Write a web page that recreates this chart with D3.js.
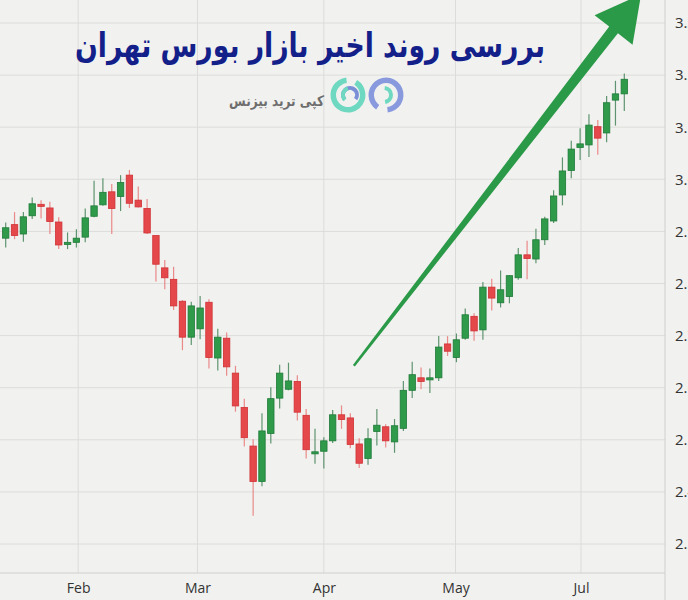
<!DOCTYPE html>
<html><head><meta charset="utf-8">
<script src="https://cdn.jsdelivr.net/npm/d3@7/dist/d3.min.js"></script>
<style>html,body{margin:0;padding:0;background:#f1f1ef;overflow:hidden}svg{display:block}</style>
</head><body>
<script>
const openV  = [2.887,2.913,2.895,2.930,2.952,2.945,2.918,2.875,2.879,2.889,2.929,2.951,2.976,2.967,3.008,2.960,2.944,2.892,2.830,2.808,2.766,2.697,2.713,2.764,2.657,2.695,2.628,2.562,2.488,2.420,2.512,2.580,2.597,2.612,2.547,2.473,2.478,2.498,2.548,2.542,2.492,2.464,2.516,2.525,2.496,2.522,2.595,2.619,2.615,2.619,2.684,2.658,2.695,2.737,2.711,2.793,2.763,2.775,2.811,2.855,2.847,2.884,2.920,2.970,3.017,3.061,3.066,3.101,3.089,3.152,3.164];
const highV  = [2.917,2.937,2.937,2.965,2.960,2.957,2.927,2.898,2.904,2.944,2.997,3.002,2.991,3.008,3.018,2.986,2.962,2.892,2.845,2.832,2.768,2.765,2.776,2.770,2.713,2.706,2.642,2.579,2.501,2.551,2.601,2.644,2.648,2.624,2.559,2.521,2.505,2.557,2.566,2.551,2.503,2.522,2.559,2.530,2.540,2.613,2.650,2.639,2.637,2.699,2.699,2.704,2.752,2.743,2.803,2.809,2.825,2.816,2.868,2.882,2.905,2.928,2.979,3.042,3.074,3.098,3.125,3.114,3.160,3.189,3.203];
const lowV   = [2.869,2.885,2.880,2.924,2.925,2.895,2.866,2.866,2.869,2.879,2.927,2.949,2.895,2.939,2.945,2.946,2.895,2.804,2.789,2.749,2.672,2.682,2.693,2.637,2.633,2.623,2.554,2.487,2.354,2.411,2.493,2.560,2.595,2.537,2.464,2.454,2.445,2.494,2.521,2.484,2.446,2.452,2.489,2.485,2.475,2.517,2.580,2.597,2.590,2.613,2.661,2.649,2.692,2.690,2.692,2.748,2.754,2.762,2.807,2.808,2.839,2.874,2.916,2.950,3.002,3.037,3.043,3.047,3.071,3.103,3.131];
const closeV = [2.907,2.892,2.928,2.953,2.948,2.919,2.874,2.879,2.887,2.926,2.949,2.975,2.944,2.994,2.954,2.947,2.897,2.837,2.811,2.757,2.697,2.757,2.753,2.658,2.697,2.640,2.565,2.504,2.420,2.517,2.579,2.628,2.613,2.553,2.481,2.477,2.498,2.548,2.539,2.491,2.455,2.502,2.528,2.498,2.527,2.595,2.625,2.612,2.619,2.678,2.670,2.692,2.740,2.709,2.793,2.772,2.788,2.815,2.855,2.848,2.884,2.924,2.968,3.016,3.058,3.068,3.104,3.079,3.147,3.164,3.192];
const yTicks = [2.3,2.4,2.5,2.6,2.7,2.8,2.9,3.0,3.1,3.2,3.3];
const monthIdx = [8.2,21.7,36.0,50.9,65.1];
const monthLabels = ["Feb","Mar","Apr","May","Jul"];
const arrowFrom = [39.4, 2.642];
const arrowTo = [71.9, 3.355];
const titleText = "بررسی روند اخیر بازار بورس تهران";
const logoText = "کپی ترید بیزنس";

const W = 688, H = 600;
const plotRight = 665, axisY = 573;
const data = openV.map((o,i)=>({i, o, h:highV[i], l:lowV[i], c:closeV[i]}));

const svg = d3.select("body").append("svg").attr("width",W).attr("height",H);
svg.append("rect").attr("width",W).attr("height",H).attr("fill","#f1f1ef");

const x = d3.scaleLinear().domain([0, data.length-1]).range([5.7, 624.3]);
const y = d3.scaleLinear().domain([2.3, 3.3]).range([544, 23]);

// horizontal grid
svg.append("g").selectAll("line").data(yTicks).join("line")
  .attr("x1",0).attr("x2",plotRight).attr("y1",d=>y(d)).attr("y2",d=>y(d))
  .attr("stroke","#dcdcda").attr("stroke-width",1);
// vertical grid
svg.append("g").selectAll("line").data(monthIdx).join("line")
  .attr("x1",d=>x(d)).attr("x2",d=>x(d)).attr("y1",0).attr("y2",axisY)
  .attr("stroke","#dcdcda").attr("stroke-width",1);
// axis frame
svg.append("line").attr("x1",0).attr("x2",plotRight).attr("y1",axisY).attr("y2",axisY).attr("stroke","#cfcfcd");
svg.append("line").attr("x1",plotRight).attr("x2",plotRight).attr("y1",0).attr("y2",H).attr("stroke","#cfcfcd");

// y axis labels (clipped by the right edge, as in the reference)
const yAxis = d3.axisRight(y).tickValues(yTicks).tickFormat(d3.format(".1f")).tickSize(0).tickPadding(10);
const ya = svg.append("g").attr("transform",`translate(${plotRight},0)`).call(yAxis);
ya.select(".domain").remove();
ya.selectAll("text").attr("font-family","'Open Sans', sans-serif").attr("font-size",15).attr("fill","#333");

// x axis labels
const xAxis = d3.axisBottom(x).tickValues(monthIdx).tickFormat((d,i)=>monthLabels[i]).tickSize(0).tickPadding(10);
const xa = svg.append("g").attr("transform",`translate(0,${axisY})`).call(xAxis);
xa.select(".domain").remove();
xa.selectAll("text").attr("font-family","'Open Sans', sans-serif").attr("font-size",14).attr("fill","#333");

// candles
const bw = 6.4;
const cg = svg.append("g");
const up = d=>d.c>=d.o;
cg.selectAll("line.w").data(data).join("line").attr("class","w")
  .attr("x1",d=>x(d.i)).attr("x2",d=>x(d.i)).attr("y1",d=>y(d.h)).attr("y2",d=>y(d.l))
  .attr("stroke",d=>up(d)?"#5f9470":"#e98a8a").attr("stroke-width",1.2);
cg.selectAll("rect.b").data(data).join("rect").attr("class","b")
  .attr("x",d=>x(d.i)-bw/2).attr("width",bw)
  .attr("y",d=>y(Math.max(d.o,d.c)))
  .attr("height",d=>Math.max(1.5, Math.abs(y(d.o)-y(d.c))))
  .attr("fill",d=>up(d)?"#2e9a4a":"#e5484b")
  .attr("stroke",d=>up(d)?"#1f7b38":"#cf3034").attr("stroke-width",0.8);

// arrow
const T = [x(arrowFrom[0]), y(arrowFrom[1])];
const P = [x(arrowTo[0]), y(arrowTo[1])];
const dx = P[0]-T[0], dy = P[1]-T[1], len = Math.hypot(dx,dy);
const u = [dx/len, dy/len], n = [-u[1], u[0]];
const headLen = 45, headHalf = 24, shaftEnd = 5.5, shaftStart = 1.2;
const B = [P[0]-u[0]*headLen, P[1]-u[1]*headLen];
const pt = (p,k)=>[p[0]+n[0]*k, p[1]+n[1]*k];
const poly = [pt(T,shaftStart), pt(B,shaftEnd), pt(B,headHalf), P, pt(B,-headHalf), pt(B,-shaftEnd), pt(T,-shaftStart)];
svg.append("path").attr("d", d3.line()(poly)+"Z").attr("fill","#2b9a48");

// title
const tt = svg.append("text").attr("x",0).attr("y",0).attr("text-anchor","middle")
  .attr("transform","translate(310,57) scale(1,1.28)")
  .attr("font-family","'DejaVu Sans', 'Noto Sans', sans-serif").attr("font-weight","bold")
  .attr("font-size",30).attr("fill","#13208a").text(titleText);
const tw = tt.node().getComputedTextLength();
tt.attr("font-size", 30*470/tw);

// logo text
const lt = svg.append("text").attr("x",0).attr("y",0).attr("text-anchor","end")
  .attr("transform","translate(324,106) scale(1,1.2)")
  .attr("font-family","'DejaVu Sans', sans-serif").attr("font-weight","bold")
  .attr("font-size",14).attr("fill","#6e6e6e").text(logoText);
const lw = lt.node().getComputedTextLength();
lt.attr("font-size", 14*95/lw);

// logo icon
const lg = svg.append("g");
const arc = d3.arc();
lg.append("path").attr("transform","translate(348,95)")
  .attr("d", arc({innerRadius:12, outerRadius:17.5, startAngle:0.55, endAngle:2*Math.PI-0.1}))
  .attr("fill","#6fd8c0");
lg.append("path").attr("transform","translate(350,95)")
  .attr("d", arc({innerRadius:5, outerRadius:9, startAngle:Math.PI*1.3, endAngle:Math.PI*2.7}))
  .attr("fill","#7b8fd6");
lg.append("path").attr("transform","translate(350,95)")
  .attr("d", arc({innerRadius:5, outerRadius:9, startAngle:Math.PI*1.25, endAngle:Math.PI*1.9}))
  .attr("fill","#6fd8c0");
lg.append("path").attr("transform","translate(386,95)")
  .attr("d", arc({innerRadius:12, outerRadius:17.5, startAngle:-Math.PI+0.6, endAngle:Math.PI-0.1}))
  .attr("fill","#8899de");
lg.append("path").attr("transform","translate(384,95)")
  .attr("d", arc({innerRadius:5, outerRadius:9, startAngle:0.1, endAngle:Math.PI*0.95}))
  .attr("fill","#6fd8c0");
</script>
</body></html>
